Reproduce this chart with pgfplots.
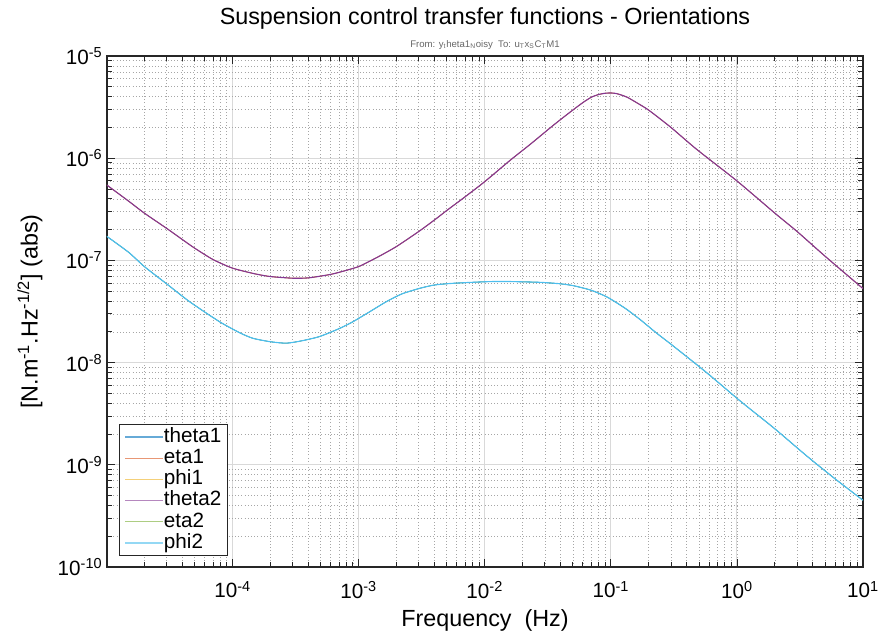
\documentclass[border=0pt]{standalone}
\usepackage{fontspec}
\setmainfont{Liberation Sans}
\usepackage{pgfplots}
\pgfplotsset{compat=1.18}
\usepackage{pgfplotstable}

\definecolor{mblue}{rgb}{0,0.447,0.741}
\definecolor{morange}{rgb}{0.85,0.325,0.098}
\definecolor{myellow}{rgb}{0.929,0.694,0.125}
\definecolor{mpurple}{rgb}{0.52,0.22,0.58}
\definecolor{mgreen}{rgb}{0.466,0.674,0.188}
\definecolor{mcyan}{rgb}{0.301,0.745,0.933}

\pgfplotstableread{
f v
1.0e-5 5.5e-7
1.5e-5 3.8e-7
2e-5 2.9e-7
3e-5 2.06e-7
4e-5 1.6e-7
5e-5 1.32e-7
7e-5 1.02e-7
1e-4 8.4e-8
1.5e-4 7.4e-8
2e-4 6.95e-8
3e-4 6.7e-8
4e-4 6.75e-8
6e-4 7.3e-8
8e-4 8.0e-8
1e-3 8.7e-8
1.2e-3 9.7e-8
1.5e-3 1.12e-7
2e-3 1.37e-7
3e-3 1.92e-7
4e-3 2.49e-7
5e-3 3.08e-7
7e-3 4.2e-7
1e-2 5.9e-7
1.6e-2 9.6e-7
2.3e-2 1.37e-6
3.5e-2 2.1e-6
4.8e-2 2.85e-6
6e-2 3.5e-6
7e-2 3.95e-6
8e-2 4.2e-6
9e-2 4.32e-6
1e-1 4.35e-6
1.1e-1 4.3e-6
1.2e-1 4.17e-6
1.35e-1 3.95e-6
1.6e-1 3.5e-6
2e-1 2.95e-6
3e-1 2.0e-6
4.8e-1 1.22e-6
1 6.0e-7
2 2.9e-7
3 1.92e-7
5 1.1e-7
10 5.3e-8
}\highdata

\pgfplotstableread{
f v
1e-5 1.73e-7
1.5e-5 1.2e-7
2e-5 8.7e-8
3e-5 5.9e-8
4.56e-5 3.95e-8
7.9e-5 2.51e-8
1.14e-4 1.96e-8
1.45e-4 1.73e-8
2e-4 1.6e-8
2.67e-4 1.55e-8
3.5e-4 1.63e-8
4.9e-4 1.80e-8
7e-4 2.15e-8
9e-4 2.51e-8
1.2e-3 3.1e-8
1.66e-3 3.95e-8
2.2e-3 4.7e-8
3.05e-3 5.33e-8
4e-3 5.75e-8
5.6e-3 5.97e-8
1.03e-2 6.19e-8
1.5e-2 6.22e-8
2.77e-2 6.1e-8
4e-2 5.9e-8
5.08e-2 5.65e-8
7e-2 5.1e-8
9.35e-2 4.38e-8
1.3e-1 3.4e-8
1.72e-1 2.62e-8
2.3e-1 1.95e-8
3.16e-1 1.44e-8
5.81e-1 7.9e-9
1.07 4.18e-9
2 2.25e-9
3.61 1.21e-9
6 7.3e-10
10 4.5e-10
}\lowdata

\begin{document}
\begin{tikzpicture}
\begin{axis}[
  at={(0,0)}, anchor=south west,
  scale only axis,
  width=567pt, height=383.25pt,
  xmode=log, ymode=log,
  xmin=1.01e-5, xmax=10,
  ymin=1e-10, ymax=1e-5,
  axis line style={black!85, line width=0.8pt},
  tick style={black!85, line width=0.6pt},
  tick align=inside,
  major tick length=6pt,
  minor tick length=3.5pt,
  xtick pos=both, ytick pos=both,
  grid=both,
  major grid style={black!15, line width=0.8pt},
  minor grid style={black!35, dotted, line width=0.5pt},
  xticklabel={\pgfmathparse{int(round(\tick/ln(10)))}10\textsuperscript{\pgfmathresult}},
  yticklabel={\pgfmathparse{int(round(\tick/ln(10)))}10\textsuperscript{\pgfmathresult}},
  ticklabel style={font=\fontsize{15.5}{18}\selectfont},
  x tick label style={yshift=-7pt},
  xlabel={Frequency\ \ (Hz)},
  ylabel={[N.m\textsuperscript{-1}.Hz\textsuperscript{-1/2}] (abs)},
  label style={font=\fontsize{17.5}{20}\selectfont},
  x label style={at={(axis description cs:0.5,-0.104)}, anchor=center},
  y label style={at={(axis description cs:-0.102,0.5)}, anchor=center},
  legend style={at={(axis description cs:0.0159,0.0215)}, anchor=south west,
    draw=black!85, line width=0.6pt, fill=white,
    font=\fontsize{15.5}{16}\selectfont,
    nodes={inner sep=0.6pt, text height=11.3pt, text depth=3.4pt},
    row sep=0pt, inner xsep=4pt, inner ysep=1.5pt},
  legend cell align=left,
  legend image code/.code={\draw[#1, line width=0.8pt, opacity=0.6] (0pt,0pt) -- (28pt,0pt);},
  every axis plot/.append style={smooth, tension=0.4},
]
\addplot[color=mblue, line width=0.4pt] table {\lowdata};
\addlegendentry{theta1}
\addplot[color=morange, line width=0.4pt] table {\highdata};
\addlegendentry{eta1}
\addplot[color=myellow, line width=0.4pt] table {\highdata};
\addlegendentry{phi1}
\addplot[color=mpurple, line width=0.85pt] table {\highdata};
\addlegendentry{theta2}
\addplot[color=mgreen, line width=0.4pt] table {\lowdata};
\addlegendentry{eta2}
\addplot[color=mcyan, line width=0.85pt] table {\lowdata};
\addlegendentry{phi2}
\end{axis}
\node[font=\fontsize{17.5}{20}\selectfont] at (283.5pt,411.75pt) {Suspension control transfer functions - Orientations};
\node[font=\fontsize{7.2}{8}\selectfont, text=black!60] at (283.5pt,391.5pt) {From: y\textsubscript{t}heta1\textsubscript{N}oisy\ \ To: u\textsubscript{T}x\textsubscript{S}C\textsubscript{T}M1};
\pgfresetboundingbox
\path (-80.25pt,-49.5pt) rectangle (581.25pt,425.25pt);
\end{tikzpicture}
\end{document}
